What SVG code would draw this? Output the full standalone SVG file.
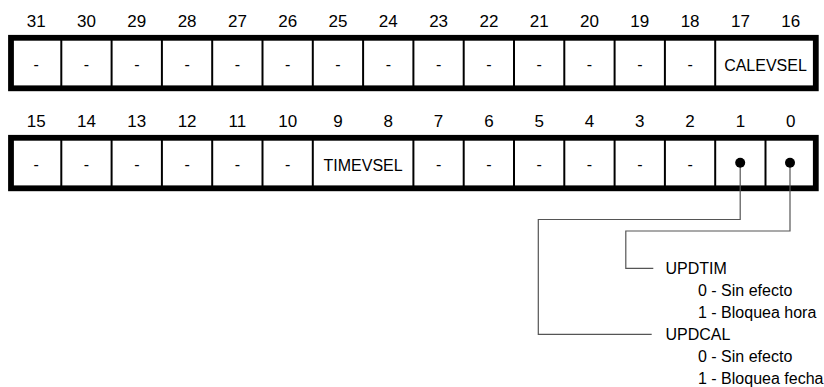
<svg xmlns="http://www.w3.org/2000/svg" width="824" height="387" viewBox="0 0 824 387">
<style>
text{font-family:"Liberation Sans",Arial,sans-serif;font-size:16px;fill:#000}
.c{text-anchor:middle}
.n text{font-size:17px}
.frame{fill:#fff;stroke:#000;stroke-width:5.8}
.div{stroke:#000;stroke-width:2}
.conn{fill:none;stroke:#555;stroke-width:1.2}
</style>
<rect width="824" height="387" fill="#fff"/>
<g id="row-high">
<rect class="frame" x="11" y="37.8" width="804.8" height="50.5"/>
<g class="div">
<line x1="61.3" y1="40" x2="61.3" y2="86"/><line x1="111.6" y1="40" x2="111.6" y2="86"/><line x1="161.9" y1="40" x2="161.9" y2="86"/><line x1="212.2" y1="40" x2="212.2" y2="86"/><line x1="262.5" y1="40" x2="262.5" y2="86"/><line x1="312.8" y1="40" x2="312.8" y2="86"/><line x1="363.1" y1="40" x2="363.1" y2="86"/><line x1="413.4" y1="40" x2="413.4" y2="86"/><line x1="463.7" y1="40" x2="463.7" y2="86"/><line x1="514" y1="40" x2="514" y2="86"/><line x1="564.3" y1="40" x2="564.3" y2="86"/><line x1="614.6" y1="40" x2="614.6" y2="86"/><line x1="664.9" y1="40" x2="664.9" y2="86"/><line x1="715.2" y1="40" x2="715.2" y2="86"/>
</g>
<g class="c n">
<text x="36.2" y="26.5">31</text><text x="86.5" y="26.5">30</text><text x="136.8" y="26.5">29</text><text x="187.1" y="26.5">28</text><text x="237.4" y="26.5">27</text><text x="287.7" y="26.5">26</text><text x="338" y="26.5">25</text><text x="388.3" y="26.5">24</text><text x="438.6" y="26.5">23</text><text x="488.9" y="26.5">22</text><text x="539.2" y="26.5">21</text><text x="589.5" y="26.5">20</text><text x="639.8" y="26.5">19</text><text x="690.1" y="26.5">18</text><text x="740.4" y="26.5">17</text><text x="790.7" y="26.5">16</text>
</g>
<g class="c">
<text x="36.2" y="70">-</text><text x="86.5" y="70">-</text><text x="136.8" y="70">-</text><text x="187.1" y="70">-</text><text x="237.4" y="70">-</text><text x="287.7" y="70">-</text><text x="338" y="70">-</text><text x="388.3" y="70">-</text><text x="438.6" y="70">-</text><text x="488.9" y="70">-</text><text x="539.2" y="70">-</text><text x="589.5" y="70">-</text><text x="639.8" y="70">-</text><text x="690.1" y="70">-</text>
<text x="765.5" y="70.5">CALEVSEL</text>
</g>
</g>
<g id="row-low">
<rect class="frame" x="11" y="137.8" width="804.8" height="50.5"/>
<g class="div">
<line x1="61.3" y1="140" x2="61.3" y2="186"/><line x1="111.6" y1="140" x2="111.6" y2="186"/><line x1="161.9" y1="140" x2="161.9" y2="186"/><line x1="212.2" y1="140" x2="212.2" y2="186"/><line x1="262.5" y1="140" x2="262.5" y2="186"/><line x1="312.8" y1="140" x2="312.8" y2="186"/><line x1="413.4" y1="140" x2="413.4" y2="186"/><line x1="463.7" y1="140" x2="463.7" y2="186"/><line x1="514" y1="140" x2="514" y2="186"/><line x1="564.3" y1="140" x2="564.3" y2="186"/><line x1="614.6" y1="140" x2="614.6" y2="186"/><line x1="664.9" y1="140" x2="664.9" y2="186"/><line x1="715.2" y1="140" x2="715.2" y2="186"/><line x1="765.5" y1="140" x2="765.5" y2="186"/>
</g>
<g class="c n">
<text x="36.2" y="126.5">15</text><text x="86.5" y="126.5">14</text><text x="136.8" y="126.5">13</text><text x="187.1" y="126.5">12</text><text x="237.4" y="126.5">11</text><text x="287.7" y="126.5">10</text><text x="338" y="126.5">9</text><text x="388.3" y="126.5">8</text><text x="438.6" y="126.5">7</text><text x="488.9" y="126.5">6</text><text x="539.2" y="126.5">5</text><text x="589.5" y="126.5">4</text><text x="639.8" y="126.5">3</text><text x="690.1" y="126.5">2</text><text x="740.4" y="126.5">1</text><text x="790.7" y="126.5">0</text>
</g>
<g class="c">
<text x="36.2" y="170">-</text><text x="86.5" y="170">-</text><text x="136.8" y="170">-</text><text x="187.1" y="170">-</text><text x="237.4" y="170">-</text><text x="287.7" y="170">-</text><text x="438.6" y="170">-</text><text x="488.9" y="170">-</text><text x="539.2" y="170">-</text><text x="589.5" y="170">-</text><text x="639.8" y="170">-</text><text x="690.1" y="170">-</text>
<text x="363.1" y="170.5">TIMEVSEL</text>
</g>
</g>
<g id="connectors">
<polyline class="conn" points="740.2,162.7 740.2,219.5 538.3,219.5 538.3,334.3 651.7,334.3"/>
<polyline class="conn" points="790,162.7 790,231 625.8,231 625.8,268.3 653.3,268.3"/>
<circle cx="740.2" cy="162.7" r="5" fill="#000"/>
<circle cx="790" cy="162.7" r="5" fill="#000"/>
</g>
<g id="updtim">
<text x="665.5" y="274">UPDTIM</text>
<text x="698" y="296">0 - Sin efecto</text>
<text x="698" y="318">1 - Bloquea hora</text>
</g>
<g id="updcal">
<text x="665.5" y="340">UPDCAL</text>
<text x="698" y="362">0 - Sin efecto</text>
<text x="698" y="384">1 - Bloquea fecha</text>
</g>
</svg>
